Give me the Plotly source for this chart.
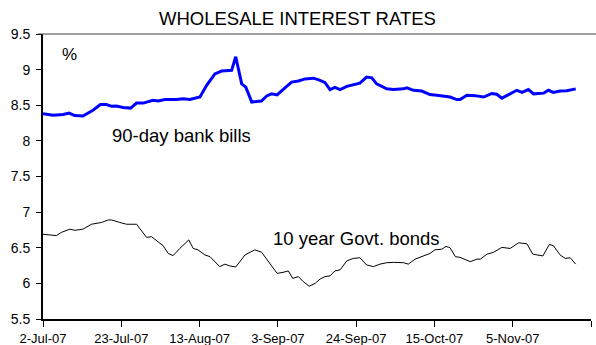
import pandas as pd
import plotly.graph_objects as go

start_date = "2007-07-02"

# day offsets from 2-Jul-07 and values
bill_days = [0, 2.7, 5.4, 7.0, 8.5, 10.7, 13.4, 15.4, 17.0, 18.4, 19.7, 21.5, 23.5, 25.1, 26.9,
             29.5, 30.9, 32.7, 35.8, 37.6, 39.4, 42.1, 43.9, 46.1, 47.9,
             50.6, 51.7, 53.3, 54.4, 56.0, 58.6, 60.0, 61.3, 62.8, 64.9, 66.7, 68.5, 70.3, 72.5,
             73.8, 75.6, 77.0, 78.3, 79.7, 81.5, 83.2, 85.0, 86.8, 88.2, 89.5, 92.2, 94.0, 96.7,
             97.6, 99.4, 101.6, 103.8, 105.6, 107.9, 109.2, 111.0, 111.9, 113.7, 115.9, 118.2,
             120.4, 121.7, 123.1, 124.9, 127.1, 128.5, 130.2, 131.6, 134.3, 135.6, 136.9, 138.7,
             140.5, 142.9]
bill_vals = [8.38, 8.36, 8.37, 8.39, 8.355, 8.35, 8.43, 8.51, 8.51, 8.485, 8.49, 8.47, 8.46, 8.53,
             8.53, 8.57, 8.56, 8.58, 8.58, 8.59, 8.58, 8.615, 8.78, 8.94, 8.98,
             8.99, 9.18, 8.80, 8.755, 8.545, 8.56, 8.63, 8.66, 8.645, 8.745, 8.825, 8.84, 8.87,
             8.88, 8.86, 8.82, 8.72, 8.75, 8.72, 8.765, 8.79, 8.81, 8.895, 8.885, 8.80, 8.73,
             8.72, 8.73,
             8.745, 8.71, 8.70, 8.65, 8.64, 8.63, 8.615, 8.58, 8.58, 8.64, 8.635, 8.615, 8.665,
             8.655, 8.60, 8.65, 8.71, 8.68, 8.72, 8.66, 8.67, 8.71, 8.68, 8.70, 8.705, 8.73]

bond_days = [0, 1.8, 3.6, 4.9, 7.2, 8.5, 10.7, 13.0, 14.8, 15.7, 17.5, 18.4, 20.6, 22.4, 25.1,
             27.8, 29.1, 30.5, 32.2, 33.6, 34.9, 36.7, 39.1, 40.3, 41.6, 43.4, 44.8, 47.4, 48.8,
             50.1, 51.7, 54.2, 56.8, 58.6, 60.9, 62.8, 64.4, 65.8, 67.0, 68.5, 69.8, 71.4, 73.0,
             74.3, 75.6, 77.0, 78.3, 79.7, 81.5, 83.2, 85.0, 86.8, 88.6, 90.4, 92.2, 94.0, 96.7,
             98.0, 99.8, 102.0, 103.8, 105.1, 107.0, 108.1, 109.2, 110.6, 111.9, 114.6, 116.4,
             117.3, 119.1, 120.8, 123.1, 125.3, 127.6, 129.8, 131.4, 134.1, 135.8, 136.9, 138.7,
             140.1, 141.4, 142.9]
bond_vals = [6.69, 6.68, 6.67, 6.715, 6.76, 6.745, 6.76, 6.83, 6.84, 6.855, 6.89, 6.89, 6.855,
             6.83, 6.83, 6.645, 6.655, 6.60, 6.53, 6.42, 6.39, 6.49, 6.61, 6.49, 6.47, 6.40,
             6.375, 6.235, 6.27,
             6.245, 6.23, 6.40, 6.47, 6.44, 6.28, 6.14, 6.155, 6.175, 6.07, 6.095, 6.025, 5.96,
             6.00, 6.06, 6.095, 6.105, 6.175, 6.19, 6.315, 6.35, 6.36, 6.26, 6.235, 6.27, 6.29,
             6.295, 6.29,
             6.27, 6.34, 6.385, 6.42, 6.47, 6.48, 6.52, 6.50, 6.375, 6.365, 6.305, 6.34, 6.34,
             6.41, 6.435, 6.505, 6.49, 6.57, 6.555, 6.41, 6.385, 6.545, 6.53, 6.40, 6.35, 6.36,
             6.27]

x_tick_dates = ["2007-07-02", "2007-07-23", "2007-08-13", "2007-09-03", "2007-09-24",
                "2007-10-15", "2007-11-05", "2007-11-26"]
x_tick_labels = ["2-Jul-07", "23-Jul-07", "13-Aug-07", "3-Sep-07", "24-Sep-07",
                 "15-Oct-07", "5-Nov-07", ""]
y_tick_vals = [5.5, 6, 6.5, 7, 7.5, 8, 8.5, 9, 9.5]
y_tick_labels = ["5.5", "6", "6.5", "7", "7.5", "8", "8.5", "9", "9.5"]

base = pd.Timestamp(start_date)
bill_x = [base + pd.Timedelta(days=d) for d in bill_days]
bond_x = [base + pd.Timedelta(days=d) for d in bond_days]

FONT = "Liberation Sans, Arial, sans-serif"

fig = go.Figure()
fig.add_trace(go.Scatter(x=bill_x, y=bill_vals, mode="lines",
                         line=dict(color="#0000FF", width=3), name="90-day bank bills"))
fig.add_trace(go.Scatter(x=bond_x, y=bond_vals, mode="lines",
                         line=dict(color="#000000", width=1), name="10 year Govt. bonds"))

fig.update_layout(
    width=596, height=345,
    margin=dict(l=43.3, r=5.3, t=33.5, b=26),
    paper_bgcolor="white", plot_bgcolor="white",
    showlegend=False,
    font=dict(family=FONT, color="black"),
    xaxis=dict(type="date", range=["2007-07-02", "2007-11-26"],
               tickvals=x_tick_dates, ticktext=x_tick_labels,
               showgrid=False, zeroline=False, automargin=False,
               showline=True, linecolor="black", linewidth=2,
               ticks="outside", ticklen=6, tickwidth=1, tickcolor="black",
               tickfont=dict(size=13, family=FONT), ticklabelstandoff=0),
    yaxis=dict(range=[5.5, 9.5], tickvals=y_tick_vals, ticktext=y_tick_labels,
               showgrid=False, zeroline=False, automargin=False,
               showline=True, linecolor="black", linewidth=2,
               ticks="outside", ticklen=5, tickwidth=1, tickcolor="black",
               tickfont=dict(size=14, family=FONT), ticklabelstandoff=3),
)

# top border line
fig.add_shape(type="line", xref="paper", yref="paper", x0=-0.0097, x1=1.0097, y0=1, y1=1,
              line=dict(color="#404040", width=1))

fig.add_annotation(text="WHOLESALE INTEREST RATES", xref="paper", yref="paper",
                   x=0.4644, y=1.0532, showarrow=False, xanchor="center", yanchor="middle",
                   font=dict(size=18.5, family=FONT))
fig.add_annotation(text="%", xref="paper", yref="paper", x=0.0479, y=0.928,
                   showarrow=False, xanchor="center", yanchor="middle",
                   font=dict(size=17, family=FONT))
fig.add_annotation(text="90-day bank bills", xref="paper", yref="paper", x=0.2528, y=0.6445,
                   showarrow=False, xanchor="center", yanchor="middle",
                   font=dict(size=18.5, family=FONT))
fig.add_annotation(text="10 year Govt. bonds", xref="paper", yref="paper", x=0.5722, y=0.2827,
                   showarrow=False, xanchor="center", yanchor="middle",
                   font=dict(size=18.5, family=FONT))

fig.write_html("out.html")
